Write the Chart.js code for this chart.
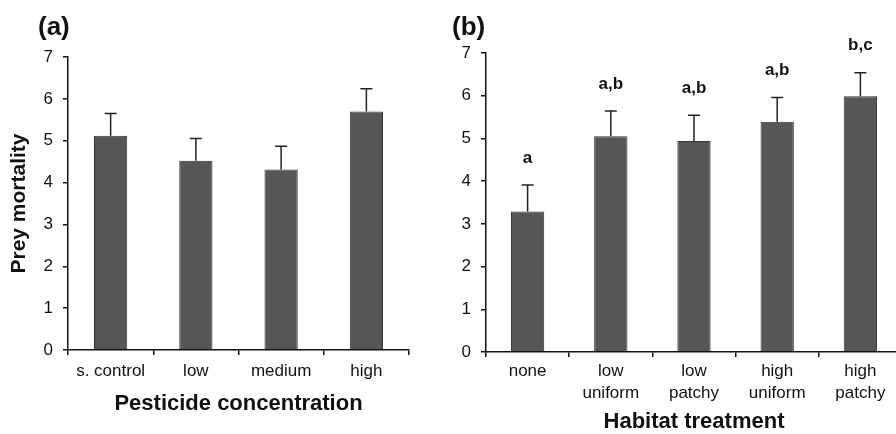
<!DOCTYPE html>
<html>
<head>
<meta charset="utf-8">
<script src="https://cdn.jsdelivr.net/npm/chart.js@4.4.1/dist/chart.umd.min.js"></script>
<style>
  html, body { margin: 0; padding: 0; background: #fff; overflow: hidden; }
  body { width: 896px; height: 434px; position: relative; }
  canvas { position: absolute; top: 0; }
  #chartA { left: 0; }
  #chartB { left: 450px; }
</style>
</head>
<body>
<canvas id="chartA" width="450" height="434"></canvas>
<canvas id="chartB" width="470" height="434"></canvas>
<script>
// panel (a): pesticide concentration
var pestLabels = ['s. control', 'low', 'medium', 'high'];
var pestMortality = [5.12, 4.52, 4.31, 5.70];
var pestSE = [0.53, 0.53, 0.56, 0.54];

// panel (b): habitat treatment
var habitatLabels = ['none', ['low', 'uniform'], ['low', 'patchy'], ['high', 'uniform'], ['high', 'patchy']];
var habitatMortality = [3.29, 5.05, 4.94, 5.39, 5.99];
var habitatSE = [0.62, 0.59, 0.60, 0.57, 0.55];
var habitatLetters = ['a', 'a,b', 'a,b', 'a,b', 'b,c'];

var yMin = 0, yMax = 7, yStep = 1;

var FONT = '"Liberation Sans", Arial, sans-serif';
var INK = '#111';

// error bars (mean + SE) and significance letters
var errorBars = {
    id: 'errorBars',
    afterDatasetsDraw: function (chart, args, opts) {
        var ctx = chart.ctx;
        var meta = chart.getDatasetMeta(0);
        var y = chart.scales.y;
        var data = chart.data.datasets[0].data;
        ctx.save();
        ctx.strokeStyle = '#222';
        ctx.lineWidth = 1.5;
        meta.data.forEach(function (bar, i) {
            var top = y.getPixelForValue(data[i] + opts.se[i]);
            var base = y.getPixelForValue(data[i]);
            ctx.beginPath();
            ctx.moveTo(bar.x, base);
            ctx.lineTo(bar.x, top);
            ctx.moveTo(bar.x - 6, top);
            ctx.lineTo(bar.x + 6, top);
            ctx.stroke();
            if (opts.letters) {
                ctx.fillStyle = INK;
                ctx.font = 'bold 17px ' + FONT;
                ctx.textAlign = 'center';
                ctx.textBaseline = 'middle';
                ctx.fillText(opts.letters[i], bar.x, top - 27);
            }
        });
        ctx.restore();
    }
};

// "(a)" / "(b)" panel tags
var panelTag = {
    id: 'panelTag',
    afterDraw: function (chart, args, opts) {
        var ctx = chart.ctx;
        ctx.save();
        ctx.fillStyle = INK;
        ctx.font = 'bold 26px ' + FONT;
        ctx.textAlign = 'left';
        ctx.textBaseline = 'middle';
        ctx.fillText(opts.text, opts.x, opts.y);
        ctx.restore();
    }
};

function makeOptions(cfg) {
    return {
        responsive: false,
        animation: false,
        layout: { padding: { left: 0, top: cfg.top, right: cfg.right, bottom: 0 } },
        plugins: {
            legend: { display: false },
            tooltip: { enabled: false },
            errorBars: { se: cfg.se, letters: cfg.letters },
            panelTag: { text: cfg.tag, x: cfg.tagX, y: 28 }
        },
        scales: {
            x: {
                offset: true,
                grid: { display: true, offset: true, drawOnChartArea: false, tickLength: 5, color: INK, lineWidth: 1.5 },
                border: { display: true, color: INK, width: 1.5 },
                ticks: { color: INK, padding: cfg.xPad, maxRotation: 0, autoSkip: false,
                    font: { family: FONT, size: 17, lineHeight: 1.25 } },
                title: { display: true, text: cfg.xTitle, color: INK,
                    font: { family: FONT, size: 22, weight: 'bold', lineHeight: 1 },
                    padding: { top: 0, bottom: cfg.xTitlePad } },
                afterFit: function (s) { s.height = cfg.xHeight; }
            },
            y: {
                min: yMin,
                max: yMax,
                grid: { display: true, drawOnChartArea: false, tickLength: 5, color: INK, lineWidth: 1.5 },
                border: { display: true, color: INK, width: 1.5 },
                ticks: { stepSize: yStep, color: INK, padding: 10,
                    font: { family: FONT, size: 17 } },
                title: { display: !!cfg.yTitle, text: cfg.yTitle, color: INK,
                    font: { family: FONT, size: 21, weight: 'bold', lineHeight: 1.2 },
                    padding: { top: 7, bottom: 0 } },
                afterFit: function (s) { s.width = cfg.yWidth; }
            }
        }
    };
}

new Chart(document.getElementById('chartA').getContext('2d'), {
    type: 'bar',
    data: {
        labels: pestLabels,
        datasets: [{
            data: pestMortality,
            backgroundColor: '#565656',
            borderColor: '#333',
            borderWidth: 1,
            categoryPercentage: 1,
            barPercentage: 0.39
        }]
    },
    options: makeOptions({
        top: 57, right: 41, se: pestSE, letters: null, tag: '(a)', tagX: 38,
        xPad: 6, xTitle: 'Pesticide concentration', xTitlePad: 19, xHeight: 84,
        yTitle: 'Prey mortality', yWidth: 68
    }),
    plugins: [errorBars, panelTag]
});

new Chart(document.getElementById('chartB').getContext('2d'), {
    type: 'bar',
    data: {
        labels: habitatLabels,
        datasets: [{
            data: habitatMortality,
            backgroundColor: '#565656',
            borderColor: '#333',
            borderWidth: 1,
            categoryPercentage: 1,
            barPercentage: 0.4
        }]
    },
    options: makeOptions({
        top: 53, right: 18, se: habitatSE, letters: habitatLetters, tag: '(b)', tagX: 2,
        xPad: 4, xTitle: 'Habitat treatment', xTitlePad: 1, xHeight: 82,
        yTitle: '', yWidth: 36
    }),
    plugins: [errorBars, panelTag]
});
</script>
</body>
</html>
